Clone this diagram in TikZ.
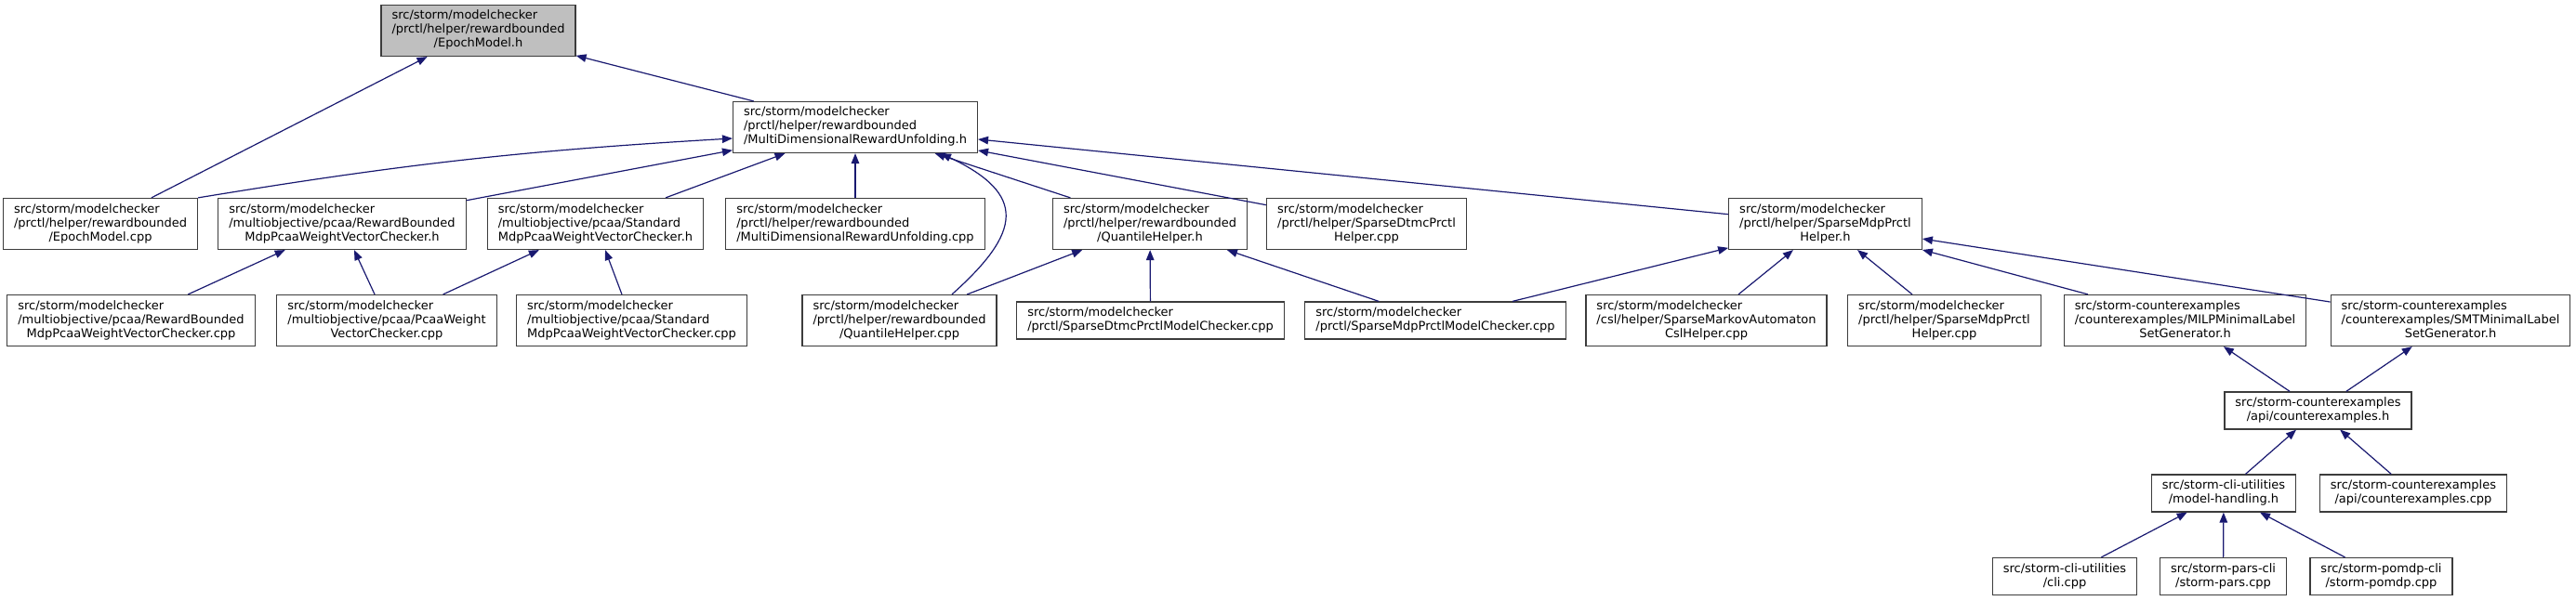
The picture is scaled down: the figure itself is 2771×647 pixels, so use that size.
\documentclass[tikz,border=0pt]{standalone}
\usepackage{fontspec}
\setmainfont{DejaVu Sans}
\usepackage{xcolor}
\definecolor{edgeblue}{RGB}{25,25,112}
\definecolor{rootgray}{RGB}{191,191,191}
\definecolor{boxframe}{RGB}{60,60,60}
\usepackage{tikz}
\usetikzlibrary{arrows.meta}
\newcommand{\flthree}[3]{\begin{tabular}{@{}l@{}}#1\\#2\\\multicolumn{1}{@{}c@{}}{#3}\end{tabular}}
\newcommand{\fltwo}[2]{\begin{tabular}{@{}l@{}}#1\\\multicolumn{1}{@{}c@{}}{#2}\end{tabular}}
\tikzset{
  fnode/.style={rectangle,draw=boxframe,fill=white,line width=1.2pt,
    font=\fontsize{13}{15}\selectfont,
    inner xsep=11.5pt,inner ysep=5pt},
  froot/.style={fnode,fill=rootgray},
  inc/.style={-{Triangle[length=11pt,width=8.5pt]},line width=1.2pt,draw=edgeblue},
}

\begin{document}
\begin{tikzpicture}[x=1pt,y=-1pt]
  \useasboundingbox (0,0) rectangle (2771,647);
  % included file and its direct includers
  \node (emh) [froot] at (514.5,33)
    {\flthree{src/storm/modelchecker}{/prctl/helper/rewardbounded}{/EpochModel.h}};
  \node (mdruh) [fnode] at (920,137)
    {\flthree{src/storm/modelchecker}{/prctl/helper/rewardbounded}{/MultiDimensionalRewardUnfolding.h}};
  % third rank
  \node (emcpp) [fnode] at (108,241)
    {\flthree{src/storm/modelchecker}{/prctl/helper/rewardbounded}{/EpochModel.cpp}};
  \node (rbh) [fnode] at (368,241)
    {\flthree{src/storm/modelchecker}{/multiobjective/pcaa/RewardBounded}{MdpPcaaWeightVectorChecker.h}};
  \node (stdh) [fnode] at (640.5,241)
    {\flthree{src/storm/modelchecker}{/multiobjective/pcaa/Standard}{MdpPcaaWeightVectorChecker.h}};
  \node (mdrucpp) [fnode] at (920,241)
    {\flthree{src/storm/modelchecker}{/prctl/helper/rewardbounded}{/MultiDimensionalRewardUnfolding.cpp}};
  \node (qhh) [fnode] at (1237,241)
    {\flthree{src/storm/modelchecker}{/prctl/helper/rewardbounded}{/QuantileHelper.h}};
  \node (sdphcpp) [fnode] at (1470,241)
    {\flthree{src/storm/modelchecker}{/prctl/helper/SparseDtmcPrctl}{Helper.cpp}};
  \node (smphh) [fnode] at (1963.5,241)
    {\flthree{src/storm/modelchecker}{/prctl/helper/SparseMdpPrctl}{Helper.h}};
  % fourth rank
  \node (rbcpp) [fnode] at (141,345)
    {\flthree{src/storm/modelchecker}{/multiobjective/pcaa/RewardBounded}{MdpPcaaWeightVectorChecker.cpp}};
  \node (pwvccpp) [fnode] at (416,345)
    {\flthree{src/storm/modelchecker}{/multiobjective/pcaa/PcaaWeight}{VectorChecker.cpp}};
  \node (stdcpp) [fnode] at (679.5,345)
    {\flthree{src/storm/modelchecker}{/multiobjective/pcaa/Standard}{MdpPcaaWeightVectorChecker.cpp}};
  \node (qhcpp) [fnode] at (967.5,345)
    {\flthree{src/storm/modelchecker}{/prctl/helper/rewardbounded}{/QuantileHelper.cpp}};
  \node (sdpmc) [fnode] at (1237.5,345)
    {\fltwo{src/storm/modelchecker}{/prctl/SparseDtmcPrctlModelChecker.cpp}};
  \node (smpmc) [fnode] at (1544,345)
    {\fltwo{src/storm/modelchecker}{/prctl/SparseMdpPrctlModelChecker.cpp}};
  \node (cslcpp) [fnode] at (1835.5,345)
    {\flthree{src/storm/modelchecker}{/csl/helper/SparseMarkovAutomaton}{CslHelper.cpp}};
  \node (smphcpp) [fnode] at (2091.5,345)
    {\flthree{src/storm/modelchecker}{/prctl/helper/SparseMdpPrctl}{Helper.cpp}};
  \node (milp) [fnode] at (2350.5,345)
    {\flthree{src/storm-counterexamples}{/counterexamples/MILPMinimalLabel}{SetGenerator.h}};
  \node (smt) [fnode] at (2636,345)
    {\flthree{src/storm-counterexamples}{/counterexamples/SMTMinimalLabel}{SetGenerator.h}};
  % counterexamples and cli
  \node (cexh) [fnode] at (2493.5,442)
    {\fltwo{src/storm-counterexamples}{/api/counterexamples.h}};
  \node (mhh) [fnode] at (2392,531)
    {\fltwo{src/storm-cli-utilities}{/model-handling.h}};
  \node (cexcpp) [fnode] at (2596,531)
    {\fltwo{src/storm-counterexamples}{/api/counterexamples.cpp}};
  \node (clicpp) [fnode] at (2221,620.5)
    {\fltwo{src/storm-cli-utilities}{/cli.cpp}};
  \node (parscpp) [fnode] at (2391.5,620.5)
    {\fltwo{src/storm-pars-cli}{/storm-pars.cpp}};
  \node (pomdpcpp) [fnode] at (2561.5,620.5)
    {\fltwo{src/storm-pomdp-cli}{/storm-pomdp.cpp}};

  % edges to the root
  \draw[inc] (emcpp) -- (emh);
  \draw[inc] (mdruh) -- (emh);
  % edges to MultiDimensionalRewardUnfolding.h
  \draw[inc] (emcpp.north east) to[bend left=3] ([yshift=-12pt]mdruh.west);
  \draw[inc] (rbh) -- (mdruh); \draw[inc] (stdh) -- (mdruh);
  \draw[inc] (mdrucpp) -- (mdruh); \draw[inc] (qhh) -- (mdruh);
  \draw[inc] (sdphcpp) -- (mdruh); \draw[inc] (smphh) -- (mdruh);
  \draw[inc] ([xshift=56.5pt]qhcpp.north)
    .. controls +(75,-67) and +(93,44) .. ([xshift=92pt]mdruh.south);
  % pcaa checkers
  \draw[inc] (rbcpp) -- (rbh); \draw[inc] (pwvccpp) -- (rbh);
  \draw[inc] (pwvccpp) -- (stdh); \draw[inc] (stdcpp) -- (stdh);
  % quantile helper
  \draw[inc] (qhcpp) -- (qhh); \draw[inc] (sdpmc) -- (qhh);
  \draw[inc] (smpmc) -- (qhh);
  % sparse mdp helper
  \draw[inc] (smpmc) -- (smphh); \draw[inc] (cslcpp) -- (smphh);
  \draw[inc] (smphcpp) -- (smphh); \draw[inc] (milp) -- (smphh);
  \draw[inc] (smt) -- (smphh);
  % counterexamples down to the cli
  \draw[inc] (cexh) -- (milp); \draw[inc] (cexh) -- (smt);
  \draw[inc] (mhh) -- (cexh); \draw[inc] (cexcpp) -- (cexh);
  \draw[inc] (clicpp) -- (mhh); \draw[inc] (parscpp) -- (mhh);
  \draw[inc] (pomdpcpp) -- (mhh);
\end{tikzpicture}
\end{document}
